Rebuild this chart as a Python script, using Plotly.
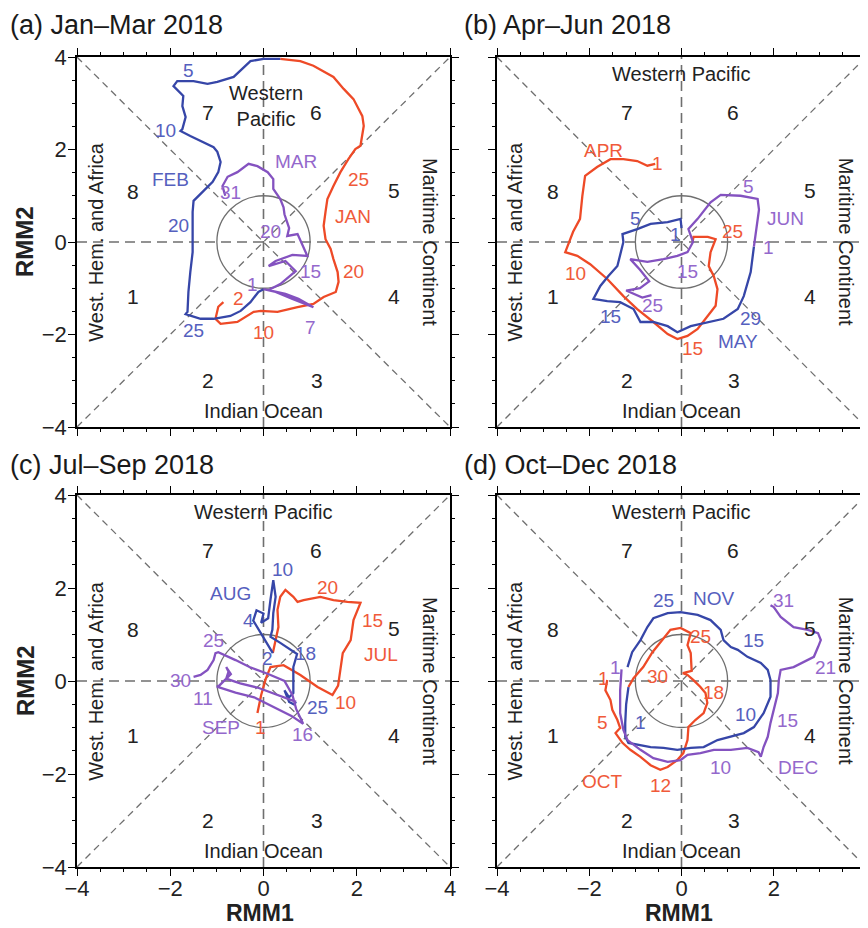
import plotly.graph_objects as go

# ---------------- data (RMM1, RMM2) ----------------
axis_ticks = [-4, -2, 0, 2, 4]
panel_titles = ["(a) Jan–Mar 2018", "(b) Apr–Jun 2018", "(c) Jul–Sep 2018", "(d) Oct–Dec 2018"]
phase_numbers = ["1", "2", "3", "4", "5", "6", "7", "8"]
phase_rmm1 = [-2.79, -1.18, 1.14, 2.79, 2.79, 1.12, -1.18, -2.79]
phase_rmm2 = [-1.17, -3.0, -3.0, -1.17, 1.12, 2.81, 2.81, 1.10]

# (a) Jan-Mar
jan_rmm1 = [-0.86, -0.97, -1.03, -0.92, -0.56, -0.21, -0.06, 0.30, 0.73, 1.07, 1.29, 1.55, 1.61, 1.59, 1.50,
            1.44, 1.33, 1.29, 1.33, 1.37, 1.50, 1.65, 1.82, 1.97, 2.08, 2.15, 2.12, 1.93, 1.72, 1.50, 1.07, 0.79, 0.36]
jan_rmm2 = [-1.30, -1.40, -1.66, -1.77, -1.73, -1.51, -1.49, -1.51, -1.41, -1.34, -1.19, -1.08, -0.86, -0.65, -0.37,
            -0.15, 0.06, 0.35, 0.65, 0.93, 1.21, 1.51, 1.79, 2.01, 2.08, 2.51, 2.72, 3.09, 3.31, 3.57, 3.81, 3.91, 3.96]
feb_rmm1 = [0.36, 0.0, -0.28, -0.49, -0.64, -0.99, -1.2, -1.5, -1.85, -1.93, -1.72, -1.74, -1.67, -1.74, -1.78,
            -1.57, -1.29, -1.07, -0.99, -0.92, -0.97, -1.09, -1.29, -1.50, -1.52, -1.52, -1.52, -1.57, -1.61,
            -1.63, -1.67, -1.35, -1.07, -0.71, -0.49, -0.28, -0.11, 0.0]
feb_rmm2 = [3.96, 3.96, 3.91, 3.70, 3.57, 3.46, 3.42, 3.48, 3.48, 3.37, 3.16, 2.94, 2.70, 2.44, 2.40,
            2.29, 2.16, 2.05, 1.95, 1.73, 1.51, 1.30, 1.10, 0.89, 0.65, 0.22, -0.22, -0.65, -1.08,
            -1.51, -1.56, -1.66, -1.66, -1.60, -1.49, -1.30, -1.08, -1.02]
mar_rmm1 = [0.0, 0.26, 0.62, 0.92, 1.07, 0.75, 0.47, 0.11, 0.36, 0.69, 0.47, 0.11, 0.26, 0.62, 0.94,
            0.73, 0.51, 0.55, 0.50, 0.45, 0.43, 0.36, 0.21, 0.21, 0.09, -0.13, -0.32, -0.56, -0.77, -0.88, -0.82]
mar_rmm2 = [-1.02, -1.08, -1.23, -1.36, -1.41, -1.23, -1.12, -1.04, -0.91, -0.63, -0.41, -0.52, -0.41, -0.28, -0.30,
            0.17, 0.13, 0.30, 0.45, 0.60, 0.75, 0.93, 1.15, 1.36, 1.51, 1.64, 1.69, 1.51, 1.41, 1.21, 1.0]

# (b) Apr-Jun
apr_rmm1 = [-0.57, -0.74, -0.96, -1.26, -1.54, -1.83, -2.09, -2.15, -2.2, -2.35, -2.52, -2.26, -1.98, -1.61, -1.26,
            -0.96, -0.61, -0.30, -0.09, 0.13, 0.35, 0.57, 0.74, 0.78, 0.70, 0.59, 0.63, 0.74, 0.57, 0.26, 0.24]
apr_rmm2 = [1.69, 1.65, 1.75, 1.79, 1.79, 1.62, 1.43, 0.99, 0.50, 0.22, -0.22, -0.30, -0.48, -0.80, -1.17,
            -1.45, -1.73, -1.99, -2.10, -2.03, -1.88, -1.60, -1.38, -1.02, -0.74, -0.52, -0.22, 0.06, 0.11, 0.11, 0.0]
may_rmm1 = [0.0, -0.02, -0.30, -0.67, -0.96, -1.28, -1.26, -1.33, -1.39, -1.59, -1.76, -1.91, -1.61, -1.33, -1.04,
            -0.89, -0.61, -0.30, -0.09, 0.20, 0.57, 0.91, 1.22, 1.35, 1.50, 1.57]
may_rmm2 = [0.30, 0.50, 0.43, 0.39, 0.28, 0.17, 0.0, -0.30, -0.52, -0.74, -0.95, -1.23, -1.28, -1.30, -1.45,
            -1.73, -1.73, -1.82, -1.95, -1.82, -1.73, -1.66, -1.45, -1.17, -0.65, -0.10]
jun_rmm1 = [1.57, 1.62, 1.68, 1.65, 1.28, 0.85, 0.63, 0.35, 0.15, 0.25, 0.13, -0.09, -0.39, -0.74, -1.11,
            -0.9, -0.7, -0.9, -1.2, -0.85, -0.65]
jun_rmm2 = [-0.10, 0.30, 0.70, 0.93, 1.0, 1.02, 0.86, 0.5, 0.28, 0.0, -0.22, -0.30, -0.37, -0.43, -0.37,
            -0.6, -0.85, -1.0, -1.05, -1.2, -1.15]

# (c) Jul-Sep
jul_rmm1 = [-0.13, -0.05, 0.05, 0.15, 0.43, 0.79, 1.16, 1.48, 1.60, 1.65, 1.70, 1.87, 1.93, 2.08, 1.80,
            1.50, 1.22, 0.86, 0.73, 0.64, 0.47, 0.36, 0.30, 0.32, 0.26, 0.20]
jul_rmm2 = [-0.69, -0.30, 0.05, 0.30, 0.34, 0.13, -0.13, -0.30, -0.10, 0.24, 0.60, 0.88, 1.31, 1.68, 1.70,
            1.74, 1.81, 1.74, 1.70, 1.81, 1.96, 1.81, 1.53, 1.16, 0.88, 0.60]
aug_rmm1 = [0.20, 0.11, -0.05, -0.22, -0.15, 0.0, -0.05, 0.10, 0.15, 0.21, 0.26, 0.21, 0.19, 0.15, 0.36,
            0.55, 0.72, 0.64, 0.64, 0.64, 0.55, 0.45, 0.55, 0.65, 0.70]
aug_rmm2 = [0.60, 0.75, 1.00, 1.30, 1.52, 1.45, 1.25, 1.35, 1.75, 2.17, 1.81, 1.46, 1.10, 0.95, 0.82,
            0.70, 0.58, 0.30, 0.02, -0.26, -0.35, -0.20, -0.45, -0.50, -0.45]
sep_rmm1 = [0.70, 0.30, -0.10, -0.50, -0.80, -0.75, -0.80, -0.70, -0.85, -0.95, -1.0, -0.6, -0.2, 0.2, 0.6,
            0.85, 0.70, 0.62, 0.45, 0.10, -0.30, -0.60, -0.80, -0.97, -1.03, -1.07, -1.20, -1.35, -1.50]
sep_rmm2 = [-0.45, -0.30, -0.15, -0.05, 0.05, 0.20, 0.30, 0.15, 0.0, -0.10, -0.12, -0.25, -0.35, -0.55, -0.75,
            -0.92, -0.60, -0.30, 0.0, 0.15, 0.30, 0.45, 0.55, 0.62, 0.60, 0.45, 0.24, 0.13, 0.09]

# (d) Oct-Dec
oct_rmm1 = [-1.61, -1.65, -1.54, -1.50, -1.39, -1.33, -1.43, -1.28, -1.11, -0.89, -0.67, -0.46, -0.30, -0.09,
            0.04, 0.13, 0.15, 0.30, 0.48, 0.56, 0.52, 0.41, 0.26, 0.13, 0.03, 0.22, 0.20, 0.13, 0.20, -0.02,
            -0.24, -0.39, -0.63, -0.83, -1.04, -1.15]
oct_rmm2 = [0.02, -0.20, -0.41, -0.62, -0.84, -1.01, -1.12, -1.33, -1.48, -1.63, -1.81, -1.91, -1.85, -1.70,
            -1.55, -1.27, -0.99, -0.84, -0.69, -0.47, -0.26, -0.13, 0.02, 0.13, 0.17, 0.22, 0.60, 0.77, 1.03, 1.14,
            1.10, 0.92, 0.62, 0.30, 0.06, -0.13]
nov_rmm1 = [-1.15, -1.2, -1.22, -1.22, -1.15, -0.89, -0.67, -0.39, -0.09, 0.2, 0.48, 0.78, 1.07, 1.35, 1.57,
            1.78, 1.93, 1.93, 1.87, 1.72, 1.43, 1.22, 1.07, 0.91, 0.85, 0.63, 0.35, -0.02, -0.3, -0.61, -0.74,
            -0.89, -1.07, -1.17]
nov_rmm2 = [-0.13, -0.5, -0.9, -1.2, -1.33, -1.38, -1.42, -1.44, -1.48, -1.44, -1.42, -1.27, -1.2, -1.12, -0.99,
            -0.69, -0.34, 0.02, 0.24, 0.39, 0.52, 0.67, 0.73, 0.88, 1.1, 1.31, 1.42, 1.48, 1.46, 1.35, 1.16,
            0.88, 0.62, 0.3]
dec_rmm1 = [-1.3, -1.33, -1.33, -1.26, -1.17, -0.89, -0.61, -0.3, -0.02, 0.13, 0.41, 0.7, 1.07, 1.43, 1.67,
            1.72, 1.78, 1.87, 1.93, 2.0, 2.09, 2.11, 2.15, 2.43, 2.65, 2.87, 2.96, 3.02, 2.96, 2.74, 2.43, 2.15,
            2.0, 1.93]
dec_rmm2 = [0.25, -0.2, -0.69, -1.05, -1.27, -1.48, -1.66, -1.74, -1.7, -1.59, -1.55, -1.48, -1.48, -1.44, -1.53,
            -1.63, -1.42, -1.2, -0.9, -0.62, -0.26, 0.02, 0.24, 0.3, 0.41, 0.52, 0.73, 0.88, 1.03, 1.1, 1.16, 1.38,
            1.59, 1.63]

# day / month labels: (text, RMM1, RMM2)
jan_labels = [("2", -0.54, -1.23), ("10", 0.0, -1.95), ("20", 1.93, -0.63), ("25", 2.04, 1.36), ("JAN", 1.91, 0.56)]
feb_labels = [("5", -1.61, 3.70), ("10", -2.1, 2.4), ("FEB", -2.0, 1.36), ("20", -1.82, 0.35), ("25", -1.5, -1.92)]
mar_labels = [("MAR", 0.69, 1.73), ("31", -0.71, 1.08), ("20", 0.15, 0.22), ("15", 1.0, -0.63), ("7", 1.0, -1.84),
              ("1", -0.24, -0.91)]
apr_labels = [("APR", -1.7, 1.97), ("1", -0.52, 1.69), ("10", -2.3, -0.69), ("15", 0.24, -2.31), ("25", 1.11, 0.22)]
may_labels = [("5", -1.0, 0.5), ("1", -0.13, 0.17), ("15", -1.54, -1.6), ("29", 1.5, -1.66), ("MAY", 1.22, -2.16)]
jun_labels = [("5", 1.46, 1.19), ("JUN", 2.26, 0.5), ("1", 1.89, -0.11), ("15", 0.13, -0.63), ("25", -0.63, -1.38)]
jul_labels = [("20", 1.37, 2.02), ("15", 2.34, 1.31), ("JUL", 2.51, 0.56), ("10", 1.76, -0.47), ("1", -0.06, -0.99)]
aug_labels = [("10", 0.41, 2.39), ("AUG", -0.71, 1.89), ("4", -0.32, 1.31), ("18", 0.9, 0.6), ("25", 1.16, -0.56),
              ("2", 0.09, 0.49)]
sep_labels = [("25", -1.07, 0.88), ("30", -1.78, 0.02), ("11", -1.29, -0.37), ("SEP", -0.92, -0.99), ("16", 0.84, -1.16)]
oct_labels = [("1", -1.7, 0.06), ("30", -0.52, 0.09), ("25", 0.41, 0.95), ("18", 0.7, -0.24), ("5", -1.72, -0.9),
              ("OCT", -1.72, -2.17), ("12", -0.46, -2.24)]
nov_labels = [("25", -0.39, 1.74), ("NOV", 0.7, 1.78), ("15", 1.57, 0.88), ("10", 1.39, -0.73), ("1", -0.89, -0.9)]
dec_labels = [("1", -1.43, 0.3), ("31", 2.22, 1.74), ("21", 3.13, 0.3), ("15", 2.3, -0.84), ("10", 0.85, -1.87),
              ("DEC", 2.52, -1.87)]

# ---------------- styling ----------------
FONT = "Liberation Sans, Arial, Helvetica, sans-serif"
RED, BLUE, PURPLE = "#EE4A27", "#3646A8", "#8452C0"
RED_T, BLUE_T, PURPLE_T = "#F05A3A", "#5560BE", "#9468CC"
OFF = 8                      # page body margin of the browser
W, H = 868 - OFF, 928 - OFF  # figure size so that it fills the window exactly


def fx(px):  # window pixel -> paper fraction (x)
    return (px - OFF) / W


def fy(py):  # window pixel -> paper fraction (y)
    return 1 - (py - OFF) / H


panels = [
    dict(months=[(jan_rmm1, jan_rmm2, RED, RED_T, jan_labels), (feb_rmm1, feb_rmm2, BLUE, BLUE_T, feb_labels),
                 (mar_rmm1, mar_rmm2, PURPLE, PURPLE_T, mar_labels)],
         xdom=(77, 450), ydom=(57, 427), xlab=False, ylab=True, two_line_wp=True),
    dict(months=[(apr_rmm1, apr_rmm2, RED, RED_T, apr_labels), (may_rmm1, may_rmm2, BLUE, BLUE_T, may_labels),
                 (jun_rmm1, jun_rmm2, PURPLE, PURPLE_T, jun_labels)],
         xdom=(497, 866), ydom=(57, 427), xlab=False, ylab=False, two_line_wp=False),
    dict(months=[(jul_rmm1, jul_rmm2, RED, RED_T, jul_labels), (aug_rmm1, aug_rmm2, BLUE, BLUE_T, aug_labels),
                 (sep_rmm1, sep_rmm2, PURPLE, PURPLE_T, sep_labels)],
         xdom=(77, 450), ydom=(495, 867), xlab=True, ylab=True, two_line_wp=False),
    dict(months=[(oct_rmm1, oct_rmm2, RED, RED_T, oct_labels), (nov_rmm1, nov_rmm2, BLUE, BLUE_T, nov_labels),
                 (dec_rmm1, dec_rmm2, PURPLE, PURPLE_T, dec_labels)],
         xdom=(497, 866), ydom=(495, 867), xlab=True, ylab=False, two_line_wp=False),
]

fig = go.Figure()
shapes, annotations = [], []
layout = {}
TXT = "#222"

for i, p in enumerate(panels):
    n = "" if i == 0 else str(i + 1)
    xa, ya = "x" + n, "y" + n
    common = dict(range=[-4, 4], tickvals=axis_ticks, showline=True, linecolor="black", linewidth=1.6,
                  mirror="ticks", ticks="outside", ticklen=7, tickwidth=1.4, tickcolor="black",
                  minor=dict(dtick=0.5, tick0=0, ticks="outside", ticklen=3.5, tickcolor="black", tickwidth=1),
                  showgrid=False, zeroline=False, fixedrange=True, automargin=False, ticklabelstandoff=-6,
                  tickfont=dict(family=FONT, size=22, color=TXT))
    layout["xaxis" + n] = dict(common, domain=[fx(p["xdom"][0]), fx(p["xdom"][1])], anchor=ya,
                               showticklabels=p["xlab"])
    layout["yaxis" + n] = dict(common, domain=[fy(p["ydom"][1]), fy(p["ydom"][0])], anchor=xa,
                               showticklabels=p["ylab"], ticklabelstandoff=-3)

    # phase-space guides
    gray = "#6f6f6f"
    shapes += [
        dict(type="line", xref=xa, yref=ya, x0=-4, y0=-4, x1=4, y1=4, layer="below",
             line=dict(color=gray, width=1.3, dash="7px,5px")),
        dict(type="line", xref=xa, yref=ya, x0=-4, y0=4, x1=4, y1=-4, layer="below",
             line=dict(color=gray, width=1.3, dash="7px,5px")),
        dict(type="line", xref=xa, yref=ya, x0=0, y0=-4, x1=0, y1=4, layer="below",
             line=dict(color=gray, width=1.6, dash="10px,6px")),
        dict(type="line", xref=xa, yref=ya, x0=-4, y0=0, x1=4, y1=0, layer="below",
             line=dict(color=gray, width=1.6, dash="10px,6px")),
        dict(type="circle", xref=xa, yref=ya, x0=-1, y0=-1, x1=1, y1=1, layer="below",
             line=dict(color=gray, width=1.3)),
    ]

    # phase numbers
    for t, px, py in zip(phase_numbers, phase_rmm1, phase_rmm2):
        annotations.append(dict(xref=xa, yref=ya, x=px, y=py, text=t, showarrow=False,
                                xanchor="center", yanchor="middle",
                                font=dict(family=FONT, size=21, color=TXT)))
    # region labels
    if p["two_line_wp"]:
        annotations.append(dict(xref=xa, yref=ya, x=0.05, y=2.93, text="Western<br>Pacific", showarrow=False,
                                xanchor="center", yanchor="middle",
                                font=dict(family=FONT, size=20, color=TXT)))
    else:
        annotations.append(dict(xref=xa, yref=ya, x=0, y=3.63, text="Western Pacific", showarrow=False,
                                xanchor="center", yanchor="middle",
                                font=dict(family=FONT, size=20, color=TXT)))
    annotations += [
        dict(xref=xa, yref=ya, x=0, y=-3.65, text="Indian Ocean", showarrow=False,
             xanchor="center", yanchor="middle", font=dict(family=FONT, size=20, color=TXT)),
        dict(xref=xa, yref=ya, x=-3.6, y=0, text="West. Hem. and Africa", textangle=-90, showarrow=False,
             xanchor="center", yanchor="middle", font=dict(family=FONT, size=20, color=TXT)),
        dict(xref=xa, yref=ya, x=3.57, y=0, text="Maritime Continent", textangle=90, showarrow=False,
             xanchor="center", yanchor="middle", font=dict(family=FONT, size=20, color=TXT)),
    ]

    # trajectories
    for rx, ry, lc, tc, labels in p["months"]:
        fig.add_trace(go.Scatter(x=rx, y=ry, xaxis=xa, yaxis=ya, mode="lines",
                                 line=dict(color=lc, width=2.3), showlegend=False, hoverinfo="skip"))
        for t, lx, ly in labels:
            annotations.append(dict(xref=xa, yref=ya, x=lx, y=ly, text=t, showarrow=False,
                                    xanchor="center", yanchor="middle",
                                    font=dict(family=FONT, size=19, color=tc)))

# panel titles
title_pos = [(8, 25), (462, 25), (8, 465), (462, 465)]
for t, (tx, ty) in zip(panel_titles, title_pos):
    annotations.append(dict(xref="paper", yref="paper", x=fx(tx), y=fy(ty), xanchor="left", yanchor="middle",
                            text=t, showarrow=False, font=dict(family=FONT, size=27, color="#1a1a1a")))
# axis titles
for cy in (242, 681):
    annotations.append(dict(xref="paper", yref="paper", x=fx(25), y=fy(cy), text="<b>RMM2</b>",
                            xanchor="center", yanchor="middle",
                            textangle=-90, showarrow=False, font=dict(family=FONT, size=24, color=TXT)))
for cx in (260, 679):
    annotations.append(dict(xref="paper", yref="paper", x=fx(cx), y=fy(913), text="<b>RMM1</b>",
                            xanchor="center", yanchor="middle",
                            showarrow=False, font=dict(family=FONT, size=23, color=TXT)))

fig.update_layout(width=W, height=H, autosize=False, margin=dict(l=0, r=0, t=0, b=0, autoexpand=False),
                  paper_bgcolor="white", plot_bgcolor="white", shapes=shapes, annotations=annotations,
                  **layout)
fig.write_html("out.html")
